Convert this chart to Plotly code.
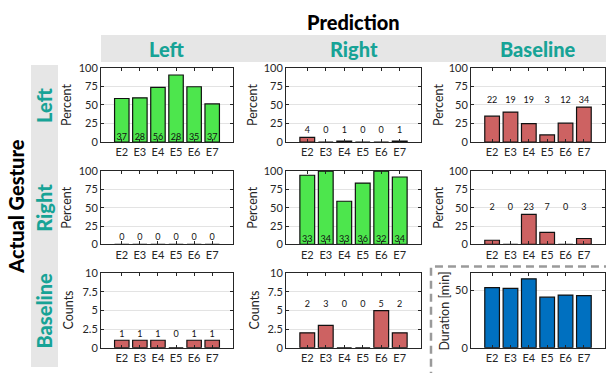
import plotly.graph_objects as go

# ---------------- data ----------------
cats = ["E2", "E3", "E4", "E5", "E6", "E7"]

# Actual gesture: Left
left_pred_left_pct = [58.7, 59.6, 73.7, 90.3, 74.5, 51.4]
left_pred_left_n = [37, 28, 56, 28, 35, 37]
left_pred_right_pct = [6.3, 0, 1.3, 0, 0, 1.4]
left_pred_right_n = [4, 0, 1, 0, 0, 1]
left_pred_base_pct = [34.9, 40.4, 25.0, 9.7, 25.5, 47.2]
left_pred_base_n = [22, 19, 19, 3, 12, 34]

# Actual gesture: Right
right_pred_left_pct = [0, 0, 0, 0, 0, 0]
right_pred_left_n = [0, 0, 0, 0, 0, 0]
right_pred_right_pct = [94.3, 100, 58.9, 83.7, 100, 91.9]
right_pred_right_n = [33, 34, 33, 36, 32, 34]
right_pred_base_pct = [5.7, 0, 41.1, 16.3, 0, 8.1]
right_pred_base_n = [2, 0, 23, 7, 0, 3]

# Actual gesture: Baseline
base_pred_left_cnt = [1, 1, 1, 0, 1, 1]
base_pred_right_cnt = [2, 3, 0, 0, 5, 2]
duration_min = [52.5, 51.8, 60.2, 44.2, 46.0, 45.5]

col_titles = ["Left", "Right", "Baseline"]
row_titles = ["Left", "Right", "Baseline"]

# ---------------- styling ----------------
W, H = 606, 373
FONT = "Lato"
TEAL = "#17a396"
GREEN = "#4de64d"
RED = "#cd6262"
BLUE = "#0070c0"
AX = "#262626"

col_px = [(101, 233), (286, 421), (471, 605)]
row_px = [(63, 140), (170, 246), (276, 353)]


def fx(v):
    return v / W


def fy(v):
    return 1 - v / H


panels = [
    # (row, col, values, labels, color, kind)
    (0, 0, left_pred_left_pct, left_pred_left_n, GREEN, "diag"),
    (0, 1, left_pred_right_pct, left_pred_right_n, RED, "pct"),
    (0, 2, left_pred_base_pct, left_pred_base_n, RED, "pct"),
    (1, 0, right_pred_left_pct, right_pred_left_n, RED, "pct"),
    (1, 1, right_pred_right_pct, right_pred_right_n, GREEN, "diag"),
    (1, 2, right_pred_base_pct, right_pred_base_n, RED, "pct"),
    (2, 0, base_pred_left_cnt, base_pred_left_cnt, RED, "cnt"),
    (2, 1, base_pred_right_cnt, base_pred_right_cnt, RED, "cnt"),
    (2, 2, duration_min, None, BLUE, "dur"),
]

fig = go.Figure()
layout = dict(
    width=W, height=H, margin=dict(l=0, r=0, t=0, b=0),
    paper_bgcolor="white", plot_bgcolor="white", showlegend=False,
    font=dict(family=FONT, color=AX, size=11),
)
annotations = []
shapes = []

for (r, c, vals, labels, color, kind) in panels:
    k = r * 3 + c + 1
    xs = "" if k == 1 else str(k)
    xref, yref = "x" + xs, "y" + xs
    fig.add_trace(go.Bar(
        x=cats, y=vals, xaxis=xref, yaxis=yref,
        marker=dict(color=color, line=dict(color="#111111", width=1.2)),
        width=0.8, hoverinfo="skip",
    ))
    if kind == "diag":
        fig.add_trace(go.Scatter(
            x=cats, y=[6.5] * len(cats), xaxis=xref, yaxis=yref,
            mode="text", text=[str(v) for v in labels],
            textfont=dict(size=9, color="#111111", family=FONT),
            cliponaxis=False, hoverinfo="skip"))
    elif kind == "pct":
        ly = max(vals) + 8.5
        fig.add_trace(go.Scatter(
            x=cats, y=[ly] * len(cats), xaxis=xref, yaxis=yref,
            mode="text", text=[str(v) for v in labels],
            textfont=dict(size=9, color="#111111", family=FONT),
            cliponaxis=False, hoverinfo="skip"))
    elif kind == "cnt":
        ly = max(vals) + 0.8
        fig.add_trace(go.Scatter(
            x=cats, y=[ly] * len(cats), xaxis=xref, yaxis=yref,
            mode="text", text=[str(v) for v in labels],
            textfont=dict(size=9, color="#111111", family=FONT),
            cliponaxis=False, hoverinfo="skip"))

    x0, x1 = col_px[c]
    y0, y1 = row_px[r]
    layout["xaxis" + xs] = dict(
        domain=[fx(x0), fx(x1)], anchor=yref, type="category",
        range=[-1.15, 5 + 1.15], showline=True, linecolor=AX, linewidth=1,
        mirror="ticks", ticks="inside", ticklen=3, tickcolor=AX,
        tickfont=dict(size=11, color=AX, family=FONT), showgrid=False,
        fixedrange=True,
    )
    if kind in ("diag", "pct"):
        yr, tv, tt, title = [0, 100], [0, 25, 50, 75, 100], ["0", "25", "50", "75", "100"], "Percent"
    elif kind == "cnt":
        yr, tv, tt, title = [0, 10], [0, 2.5, 5, 7.5, 10], ["0", "2.5", "5", "7.5", "10"], "Counts"
    else:
        yr, tv, tt, title = [0, 65], [0, 50], ["0", "50"], "Duration [min]"
    layout["yaxis" + xs] = dict(
        domain=[fy(y1), fy(y0)], anchor=xref, range=yr,
        tickmode="array", tickvals=tv, ticktext=tt,
        showline=True, linecolor=AX, linewidth=1, mirror="ticks",
        ticks="inside", ticklen=3, tickcolor=AX,
        showgrid=True, gridcolor="#e3e3e3", gridwidth=1, zeroline=False,
        tickfont=dict(size=11, color=AX, family=FONT), fixedrange=True,
    )
    # y-axis title as rotated annotation
    tx = {0: 67, 1: 253, 2: 439}[c]
    if kind == "cnt":
        tx += 2
    if kind == "dur":
        tx = 445
    annotations.append(dict(
        x=fx(tx), y=fy((y0 + y1) / 2), xref="paper", yref="paper",
        text=title, textangle=-90, showarrow=False,
        font=dict(size=12.5, color=AX, family=FONT),
        xanchor="center", yanchor="middle"))

# header bands
shapes.append(dict(type="rect", xref="paper", yref="paper",
                   x0=fx(101), x1=fx(606), y0=fy(57), y1=fy(29),
                   fillcolor="#e6e6e6", line=dict(width=0), layer="below"))
shapes.append(dict(type="rect", xref="paper", yref="paper",
                   x0=fx(31), x1=fx(58), y0=fy(373), y1=fy(60),
                   fillcolor="#e6e6e6", line=dict(width=0), layer="below"))
# dashed box around duration panel
shapes.append(dict(type="rect", xref="paper", yref="paper",
                   x0=fx(431), x1=fx(615), y0=fy(385), y1=fy(269),
                   fillcolor="rgba(0,0,0,0)",
                   line=dict(color="#9a9a9a", width=2.5, dash="8px,5px")))

annotations.append(dict(x=fx(353), y=fy(16), xref="paper", yref="paper",
                        text="Prediction", showarrow=False,
                        font=dict(size=20, color="black", family=FONT, weight=900),
                        xanchor="center", yanchor="middle"))
for i, t in enumerate(col_titles):
    cx = (col_px[i][0] + col_px[i][1]) / 2
    annotations.append(dict(x=fx(cx), y=fy(43), xref="paper", yref="paper",
                            text=t, showarrow=False,
                            font=dict(size=20, color=TEAL, family=FONT, weight=900),
                            xanchor="center", yanchor="middle"))
for i, t in enumerate(row_titles):
    cy = (row_px[i][0] + row_px[i][1]) / 2
    annotations.append(dict(x=fx(44), y=fy(cy), xref="paper", yref="paper",
                            text=t, showarrow=False, textangle=-90,
                            font=dict(size=20, color=TEAL, family=FONT, weight=900),
                            xanchor="center", yanchor="middle"))
annotations.append(dict(x=fx(16), y=fy(207), xref="paper", yref="paper",
                        text="Actual Gesture", showarrow=False, textangle=-90,
                        font=dict(size=20, color="black", family=FONT, weight=900),
                        xanchor="center", yanchor="middle"))

layout["annotations"] = annotations
layout["shapes"] = shapes
fig.update_layout(**layout)
fig.write_html(
    "out.html",
    config={"displayModeBar": False},
    post_script="document.body.style.margin='0px';document.body.style.padding='0px';",
)
